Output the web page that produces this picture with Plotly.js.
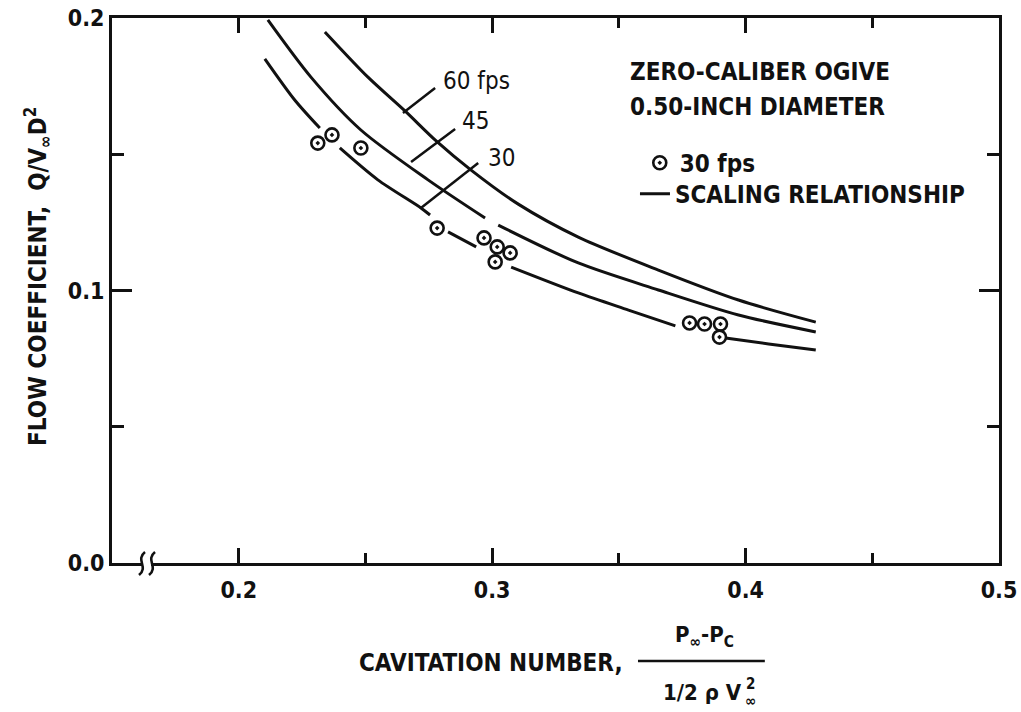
<!DOCTYPE html>
<html><head><meta charset="utf-8">
<script src="https://cdn.plot.ly/plotly-3.0.1.min.js"></script>
<style>html,body{margin:0;padding:0;background:#fff}#chart{width:1021px;height:712px}</style>
</head><body><div id="chart"></div>
<script>
// ---- data ----
const xTickVals = [0.2, 0.3, 0.4, 0.5];
const xTickText = ['0.2', '0.3', '0.4', '0.5'];
const xMinorVals = [0.25, 0.35, 0.45];
const yTickVals = [0, 0.1, 0.2];
const yTickText = ['0.0', '0.1', '0.2'];
const yMinorVals = [0.05, 0.15];

// scaling relationship curves (null = gap in the drawn line)
const curve60X = [0.2340, 0.2510, 0.2656, 0.2779, 0.2917, 0.3103, 0.3340, 0.3656, 0.3972, 0.4277];
const curve60Y = [0.1949, 0.1783, 0.1659, 0.1549, 0.1442, 0.1317, 0.1196, 0.1075, 0.0965, 0.0884];
const curve45X = [0.2115, 0.2285, 0.2482, 0.2747, 0.2972, null, 0.3024, 0.3340, 0.3656, 0.3972, 0.4277];
const curve45Y = [0.1993, 0.1783, 0.1589, 0.1406, 0.1266, null, 0.1240, 0.1101, 0.1002, 0.0910, 0.0848];
const curve30X = [0.2103, 0.2221, 0.2320, null, 0.2399, 0.2549, 0.2719, 0.2755, null, 0.2826, 0.2937, null,
                  0.3075, 0.3340, 0.3538, 0.3723, null, 0.3921, 0.4091, 0.4277];
const curve30Y = [0.1850, 0.1699, 0.1596, null, 0.1523, 0.1406, 0.1303, 0.1277, null, 0.1215, 0.1160, null,
                  0.1086, 0.0991, 0.0928, 0.0870, null, 0.0826, 0.0804, 0.0782];

// measured points, 30 fps
const pointsX = [0.2312, 0.2368, 0.2482, 0.2783, 0.2968, 0.3020, 0.3071, 0.3012, 0.3779, 0.3838, 0.3901, 0.3897];
const pointsY = [0.1541, 0.1571, 0.1523, 0.1229, 0.1193, 0.1160, 0.1138, 0.1105, 0.0881, 0.0877, 0.0877, 0.0829];

const curveLabels = ['60 fps', '45', '30'];
const legendNames = ['30 fps', 'SCALING RELATIONSHIP'];
const noteLines = ['ZERO-CALIBER OGIVE', '0.50-INCH DIAMETER'];

// ---- styling ----
const INK = '#111';
const FONT = 'Liberation Sans Narrow, DejaVu Sans Condensed, Arial Narrow, sans-serif';
const lineStyle = {color: INK, width: 3, shape: 'spline', smoothing: 0.8};
const bold = (size) => ({family: FONT, size: size, color: INK, weight: 'bold'});

// plot-area geometry (pixels) used only for decorations drawn in paper space
const M = {l: 112, r: 22, t: 18, b: 149};
const W = 1021, H = 712;
const PW = W - M.l - M.r, PH = H - M.t - M.b;
const px = (x) => ((x - M.l) / PW).toFixed(5);
const py = (y) => ((H - M.b - y) / PH).toFixed(5);
function squiggle(cx) {
  const top = H - M.b - 11, bot = H - M.b + 12;
  return 'M ' + px(cx + 3) + ' ' + py(top) +
         ' C ' + px(cx - 7) + ' ' + py(top + 8) + ' ' + px(cx + 7) + ' ' + py(bot - 8) + ' ' + px(cx - 3) + ' ' + py(bot);
}

const traces = [
  {x: curve60X, y: curve60Y, mode: 'lines', line: lineStyle, showlegend: false, connectgaps: false, hoverinfo: 'skip'},
  {x: curve45X, y: curve45Y, mode: 'lines', line: lineStyle, showlegend: false, connectgaps: false, hoverinfo: 'skip'},
  {x: curve30X, y: curve30Y, mode: 'lines', line: lineStyle, name: legendNames[1], legend: 'legend2', connectgaps: false},
  {x: pointsX, y: pointsY, mode: 'markers', name: legendNames[0], legend: 'legend',
   marker: {symbol: 'circle-open-dot', size: 13, color: INK, line: {width: 2.6, color: INK}}}
];

const axisCommon = {
  showline: true, linewidth: 3, linecolor: INK, mirror: 'ticks', showgrid: false, zeroline: false,
  ticks: 'inside', tickwidth: 3, tickcolor: INK, tickfont: bold(23)
};

const legendCommon = {xanchor: 'left', yanchor: 'top', bgcolor: 'rgba(0,0,0,0)', font: bold(24),
                      borderwidth: 0, tracegroupgap: 0};

const layout = {
  width: W, height: H,
  margin: M,
  paper_bgcolor: '#fff', plot_bgcolor: '#fff',
  font: {family: FONT, color: INK},
  xaxis: Object.assign({}, axisCommon, {
    range: [0.15, 0.5], tickvals: xTickVals, ticktext: xTickText, ticklen: 15, ticklabelstandoff: 4,
    minor: {tickvals: xMinorVals, ticks: 'inside', ticklen: 10, tickwidth: 3, tickcolor: INK, showgrid: false}
  }),
  yaxis: Object.assign({}, axisCommon, {
    range: [0, 0.2], tickvals: yTickVals, ticktext: yTickText, ticklen: 20,
    minor: {tickvals: yMinorVals, ticks: 'inside', ticklen: 12, tickwidth: 3, tickcolor: INK, showgrid: false}
  }),
  showlegend: true,
  legend: Object.assign({}, legendCommon, {x: 0.5950, y: 0.775}),
  legend2: Object.assign({}, legendCommon, {x: 0.5896, y: 0.718}),
  shapes: [
    {type: 'line', xref: 'x', yref: 'y', x0: 0.2648, y0: 0.1651, x1: 0.2775, y1: 0.1743, line: {color: INK, width: 2.5}},
    {type: 'line', xref: 'x', yref: 'y', x0: 0.2680, y0: 0.1472, x1: 0.2854, y1: 0.1593, line: {color: INK, width: 2.5}},
    {type: 'line', xref: 'x', yref: 'y', x0: 0.2719, y0: 0.1303, x1: 0.2945, y1: 0.1468, line: {color: INK, width: 2.5}},
    {type: 'line', xref: 'paper', yref: 'paper', x0: 0.593, y0: -0.1798, x1: 0.736, y1: -0.1798, line: {color: INK, width: 2.5}},
    // axis break: white gap and two squiggles
    {type: 'rect', xref: 'paper', yref: 'paper', layer: 'above', x0: px(143), x1: px(151), y0: py(H - M.b + 4), y1: py(H - M.b - 4),
     fillcolor: '#fff', line: {width: 0}},
    {type: 'path', xref: 'paper', yref: 'paper', layer: 'above', path: squiggle(142), line: {color: INK, width: 2.6}},
    {type: 'path', xref: 'paper', yref: 'paper', layer: 'above', path: squiggle(152), line: {color: INK, width: 2.6}}
  ],
  annotations: [
    {xref: 'x', yref: 'y', x: 0.3538, y: 0.1802, xanchor: 'left', yanchor: 'middle', showarrow: false,
     text: noteLines[0], font: bold(24)},
    {xref: 'x', yref: 'y', x: 0.3538, y: 0.1673, xanchor: 'left', yanchor: 'middle', showarrow: false,
     text: noteLines[1], font: bold(24)},
    {xref: 'x', yref: 'y', x: 0.2937, y: 0.1769, xanchor: 'center', yanchor: 'middle', showarrow: false,
     text: curveLabels[0], font: {family: FONT, size: 24, color: INK}},
    {xref: 'x', yref: 'y', x: 0.2933, y: 0.1622, xanchor: 'center', yanchor: 'middle', showarrow: false,
     text: curveLabels[1], font: {family: FONT, size: 24, color: INK}},
    {xref: 'x', yref: 'y', x: 0.3036, y: 0.1486, xanchor: 'center', yanchor: 'middle', showarrow: false,
     text: curveLabels[2], font: {family: FONT, size: 24, color: INK}},
    // x axis title
    {xref: 'paper', yref: 'paper', x: 0.2762, y: -0.1835, xanchor: 'left', yanchor: 'middle', showarrow: false,
     text: 'CAVITATION NUMBER,', font: bold(24)},
    {xref: 'paper', yref: 'paper', x: 0.6685, y: -0.134, xanchor: 'center', yanchor: 'middle', showarrow: false,
     text: 'P<sub>∞</sub>-P<sub>C</sub>', font: bold(22)},
    {xref: 'paper', yref: 'paper', x: 0.6658, y: -0.2367, xanchor: 'center', yanchor: 'middle', showarrow: false,
     text: '1/2 ρ V', font: bold(22)},
    {xref: 'paper', yref: 'paper', x: 0.7193, y: -0.222, xanchor: 'center', yanchor: 'middle', showarrow: false,
     text: '2', font: bold(15)},
    {xref: 'paper', yref: 'paper', x: 0.7193, y: -0.2532, xanchor: 'center', yanchor: 'middle', showarrow: false,
     text: '∞', font: bold(15)},
    // y axis title
    {xref: 'paper', yref: 'paper', x: -0.0834, y: 0.525, xanchor: 'center', yanchor: 'middle', textangle: -90,
     showarrow: false, text: 'FLOW COEFFICIENT,  Q/V<sub>∞</sub>D<sup>2</sup>', font: bold(24)}
  ]
};

Plotly.newPlot('chart', traces, layout, {displayModeBar: false, staticPlot: true});
</script>
</body></html>
